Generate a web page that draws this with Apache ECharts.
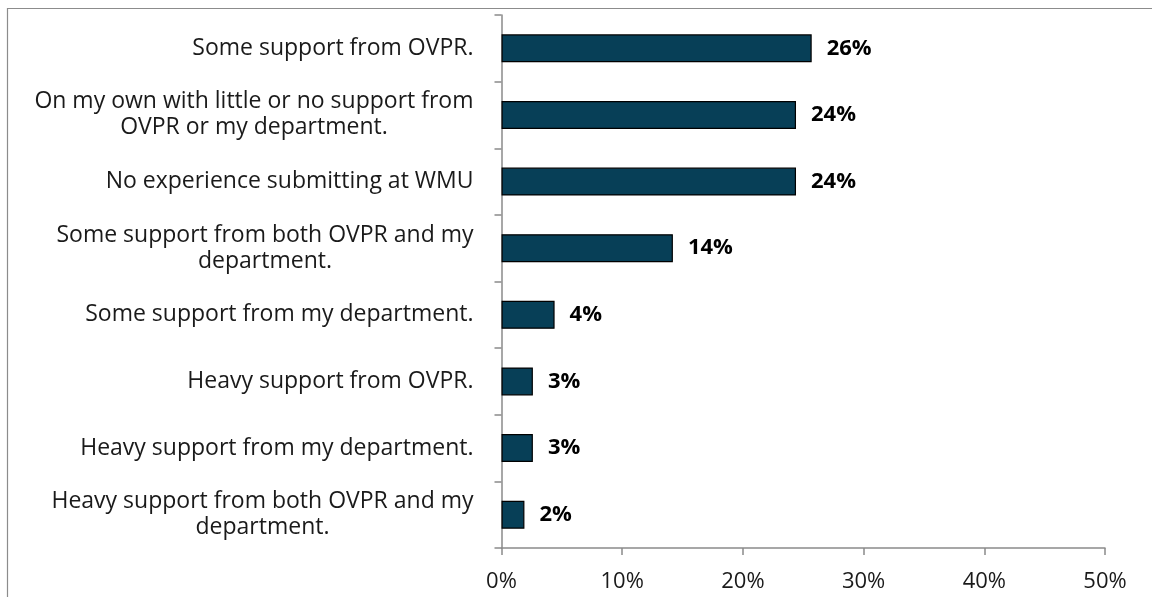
<!DOCTYPE html>
<html>
<head>
<meta charset="utf-8">
<title>Support for proposal submission</title>
<script src="https://cdn.jsdelivr.net/npm/echarts@6/dist/echarts.min.js"></script>
<style>
  html, body { margin: 0; padding: 0; background: #ffffff; }
  #chart { width: 1152px; height: 597px; }
</style>
</head>
<body>
<div id="chart"></div>
<script>
// Response categories, top to bottom
const categories = [
  'Some support from OVPR.',
  'On my own with little or no support from\nOVPR or my department.',
  'No experience submitting at WMU',
  'Some support from both OVPR and my\ndepartment.',
  'Some support from my department.',
  'Heavy support from OVPR.',
  'Heavy support from my department.',
  'Heavy support from both OVPR and my\ndepartment.'
];

// Share of respondents (%)
const shares = [25.7, 24.4, 24.4, 14.2, 4.4, 2.6, 2.6, 1.9];

// Value axis tick range (%)
const axisMin = 0;
const axisMax = 50;
const axisStep = 10;

const FONT = '"Open Sans", Lato, sans-serif';
const BAR_COLOR = '#073f57';

const chart = echarts.init(document.getElementById('chart'));

chart.setOption({
  animation: false,
  backgroundColor: '#ffffff',
  grid: {
    left: 501.5,
    right: 47,
    top: 15,
    bottom: 49,
    containLabel: false
  },
  xAxis: {
    type: 'value',
    min: axisMin,
    max: axisMax,
    interval: axisStep,
    axisLine: { show: true, lineStyle: { color: '#8a8a8a', width: 1.5 } },
    axisTick: { show: true, length: 7, lineStyle: { color: '#8a8a8a', width: 1.5 } },
    splitLine: { show: false },
    axisLabel: {
      formatter: '{value}%',
      fontFamily: FONT,
      fontSize: 22,
      color: '#1a1a1a',
      margin: 23
    }
  },
  yAxis: {
    type: 'category',
    inverse: true,
    data: categories,
    axisLine: { show: true, lineStyle: { color: '#8a8a8a', width: 1.5 } },
    axisTick: { show: true, length: 7, lineStyle: { color: '#8a8a8a', width: 1.5 } },
    axisLabel: {
      margin: 28,
      align: 'right',
      // each line centred within the right-aligned label block
      formatter: function (v) {
        return v.split('\n').map(function (line) { return '{c|' + line + '}'; }).join('\n');
      },
      rich: {
        c: {
          align: 'center',
          fontFamily: FONT,
          fontSize: 23,
          lineHeight: 26,
          color: '#1a1a1a'
        }
      }
    }
  },
  series: [{
    type: 'bar',
    data: shares,
    barWidth: 28,
    itemStyle: {
      color: BAR_COLOR,
      borderColor: '#000000',
      borderWidth: 1.2
    },
    label: {
      show: true,
      position: 'right',
      distance: 15,
      formatter: function (p) { return Math.round(p.value) + '%'; },
      fontFamily: FONT,
      fontWeight: 'bold',
      fontSize: 22,
      color: '#000000'
    }
  }],
  graphic: [{
    type: 'rect',
    silent: true,
    shape: { x: 7.5, y: 8.5, width: 1300, height: 800 },
    style: { fill: 'none', stroke: '#8c8c8c', lineWidth: 1.2 }
  }]
});
</script>
</body>
</html>
